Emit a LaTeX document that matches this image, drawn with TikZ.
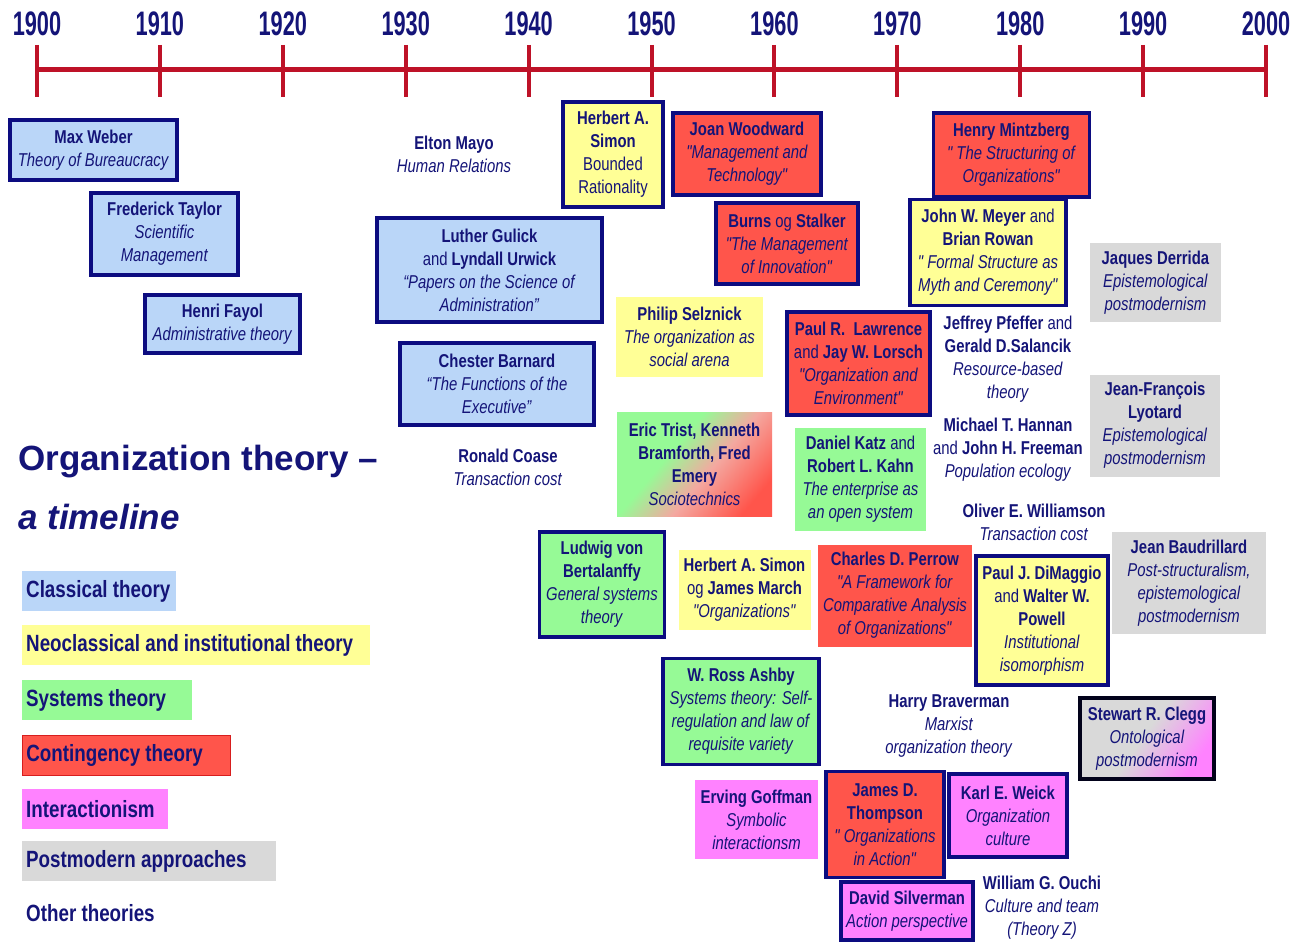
\documentclass[tikz,border=0pt]{standalone}
\usepackage{fontspec}
% box and legend texts keep straight quotation marks, so no TeX ligature mapping here
\newfontfamily\boxfam{Liberation Sans}[FakeStretch=0.8]
\newfontfamily\titlefam{Liberation Sans}
\newfontfamily\yearfam{Liberation Sans}[FakeStretch=0.64]

\definecolor{ink}{RGB}{20,20,120}
\definecolor{frame}{RGB}{12,12,128}
\definecolor{tlred}{RGB}{190,18,40}
\definecolor{cblue}{RGB}{186,214,248}
\definecolor{cyellow}{RGB}{255,255,150}
\definecolor{cgreen}{RGB}{150,250,150}
\definecolor{cred}{RGB}{255,85,75}
\definecolor{cpink}{RGB}{255,130,255}
\definecolor{cgrey}{RGB}{217,217,217}
\definecolor{mixpink}{RGB}{244,168,160}

% two-colour boxes
\pgfdeclarehorizontalshading{sociotech}{100bp}{color(0bp)=(cgreen); color(40bp)=(cgreen);
  color(56bp)=(mixpink); color(76bp)=(cred); color(100bp)=(cred)}
\pgfdeclarehorizontalshading{greypink}{100bp}{color(0bp)=(cgrey); color(48bp)=(cgrey);
  color(74bp)=(cpink); color(100bp)=(cpink)}

\begin{document}
\begin{tikzpicture}[x=1pt,y=-1pt,
  theory/.style={inner sep=0pt, align=center, text=ink,
    font=\boxfam\fontsize{18.6}{23}\selectfont},
  framed/.style={theory, draw=frame, line width=3.2pt},
  plain/.style={theory},
  sz/.style 2 args={minimum width=#1pt, minimum height=#2pt},
  classical/.style={fill=cblue},
  neo/.style={fill=cyellow},
  systems/.style={fill=cgreen},
  contingency/.style={fill=cred},
  interaction/.style={fill=cpink},
  postmodern/.style={fill=cgrey},
  legend/.style={anchor=west, inner xsep=4pt, inner ysep=0pt,
    minimum height=40pt, text=ink, font=\boxfam\fontsize{23.5}{28}\selectfont\bfseries},
  timeaxis/.style={line width=5pt, tlred},
  yeartick/.style={line width=4pt, tlred},
  yearlabel/.style={inner sep=0pt, text=ink,
    font=\yearfam\fontsize{34}{34}\selectfont\bfseries},
  headline/.style={anchor=base west, inner sep=0pt, text=ink,
    font=\titlefam\fontsize{35}{40}\selectfont\bfseries}]

\fill[white] (0,0) rectangle (1301,942);
\useasboundingbox (0,0) rectangle (1301,942);

% ---- time axis -------------------------------------------------------
\foreach \yr [count=\i from 0] in {1900,1910,...,2000} {
  \coordinate (t\yr) at (37+122.9*\i,70);
  \coordinate (tt\yr) at (37+122.9*\i,45);
  \coordinate (tb\yr) at (37+122.9*\i,97);
  \node[yearlabel] (y\yr) at (37+122.9*\i,24) {\yr};
}
\draw[timeaxis] (t1900) -- (t2000);
\foreach \yr in {1900,1910,...,2000} {
  \draw[yeartick] (tt\yr) -- (tb\yr);
}

% ---- title -----------------------------------------------------------
\node[headline] (title1) at (18,470) {Organization theory –};
\node[headline, font=\titlefam\fontsize{35}{40}\selectfont\bfseries\itshape]
  (title2) at (18,529) {a timeline};

% ---- legend ----------------------------------------------------------
\node[legend, classical] (lgclassical) at (22,591)
  {\makebox[146pt][l]{Classical theory}};
\node[legend, neo] (lgneo) at (22,645)
  {\makebox[340pt][l]{Neoclassical and institutional theory}};
\node[legend, systems] (lgsystems) at (22,700)
  {\makebox[162pt][l]{Systems theory}};
\node[legend, contingency, draw={rgb,255:red,215;green,30;blue,30}, line width=0.8pt]
  (lgcontingency) at (22,755) {\makebox[200pt][l]{Contingency theory}};
\node[legend, interaction] (lginteraction) at (22,809)
  {\makebox[138pt][l]{Interactionism}};
\node[legend, postmodern] (lgpostmodern) at (22,861)
  {\makebox[246pt][l]{Postmodern approaches}};
\node[legend] (lgother) at (22,913) {Other theories};

% ---- classical theory --------------------------------------------------
\node[framed, classical, sz={167}{60}] (weber) at (93.5,150)
  {\textbf{Max Weber}\\\textit{Theory of Bureaucracy}};
\node[framed, classical, sz={147}{82}] (taylor) at (164.5,234)
  {\textbf{Frederick Taylor}\\\textit{Scientific}\\\textit{Management}};
\node[framed, classical, sz={155}{58}] (fayol) at (222.5,324)
  {\textbf{Henri Fayol}\\\textit{Administrative theory}};
\node[framed, classical, sz={225}{104}] (gulick) at (489.5,270)
  {\textbf{Luther Gulick}\\and \textbf{Lyndall Urwick}\\
   \textit{“Papers on the Science of}\\\textit{Administration”}};
\node[framed, classical, sz={194}{82}] (barnard) at (497,384)
  {\textbf{Chester Barnard}\\\textit{“The Functions of the}\\\textit{Executive”}};

% ---- neoclassical and institutional theory ---------------------------
\node[plain] (mayo) at (454,154)
  {\textbf{Elton Mayo}\\\textit{Human Relations}};
\node[framed, neo, sz={100}{105}] (simonA) at (613,154.5)
  {\textbf{Herbert A.}\\\textbf{Simon}\\Bounded\\Rationality};
\node[theory, neo, sz={147}{80}] (selznick) at (689.5,337)
  {\textbf{Philip Selznick}\\\textit{The organization as}\\\textit{social arena}};
\node[framed, neo, sz={156}{106}] (meyer) at (988,252.5)
  {\textbf{John W. Meyer} and\\\textbf{Brian Rowan}\\
   \textit{" Formal Structure as}\\\textit{Myth and Ceremony"}};
\node[theory, neo, sz={132}{80}] (simonmarch) at (744.5,589.5)
  {\textbf{Herbert A. Simon}\\og \textbf{James March}\\\textit{"Organizations"}};
\node[framed, neo, sz={132}{129}] (dimaggio) at (1042,620.5)
  {\textbf{Paul J. DiMaggio}\\and \textbf{Walter W.}\\\textbf{Powell}\\
   \textit{Institutional}\\\textit{isomorphism}};

% ---- other theories (no box) -----------------------------------------
\node[plain] (coase) at (508,467)
  {\textbf{Ronald Coase}\\\textit{Transaction cost}};
\node[plain] (pfeffer) at (1008,359.5)
  {\textbf{Jeffrey Pfeffer} and\\\textbf{Gerald D.Salancik}\\
   \textit{Resource-based}\\\textit{theory}};
\node[plain] (hannan) at (1008,450)
  {\textbf{Michael T. Hannan}\\and \textbf{John H. Freeman}\\\textit{Population ecology}};
\node[plain] (williamson) at (1034,522.5)
  {\textbf{Oliver E. Williamson}\\\textit{Transaction cost}};
\node[plain] (braverman) at (949,726)
  {\textbf{Harry Braverman}\\\textit{Marxist}\\\textit{organization theory}};
\node[plain] (ouchi) at (1042,907.5)
  {\textbf{William G. Ouchi}\\\textit{Culture and team}\\\textit{(Theory Z)}};

% ---- contingency theory ----------------------------------------------
\node[framed, contingency, sz={148}{82}] (woodward) at (747,154)
  {\textbf{Joan Woodward}\\\textit{"Management and}\\\textit{Technology"}};
\node[framed, contingency, sz={142}{81}] (burns) at (787,243.5)
  {\textbf{Burns} og \textbf{Stalker}\\\textit{"The Management}\\\textit{of Innovation"}};
\node[framed, contingency, sz={143}{103}] (lawrence) at (858.5,363.5)
  {\textbf{Paul R.\ \ Lawrence}\\and \textbf{Jay W. Lorsch}\\
   \textit{"Organization and}\\\textit{Environment"}};
\node[framed, contingency, sz={156}{84}] (mintzberg) at (1011.5,155)
  {\textbf{Henry Mintzberg}\\\textit{" The Structuring of}\\\textit{Organizations"}};
\node[theory, contingency, sz={154}{102}] (perrow) at (895,595.5)
  {\textbf{Charles D. Perrow}\\\textit{"A Framework for}\\
   \textit{Comparative Analysis}\\\textit{of Organizations"}};
\node[framed, contingency, sz={118}{106}] (thompson) at (885,824.5)
  {\textbf{James D.}\\\textbf{Thompson}\\\textit{" Organizations}\\\textit{in Action"}};

% ---- systems theory --------------------------------------------------
\node[theory, sz={155}{104}, shade, shading=sociotech, shading angle=-40]
  (trist) at (694.5,464.5)
  {\textbf{Eric Trist, Kenneth}\\\textbf{Bramforth, Fred}\\\textbf{Emery}\\
   \textit{Sociotechnics}};
\node[theory, systems, sz={131}{103}] (katz) at (860.5,479.5)
  {\textbf{Daniel Katz} and\\\textbf{Robert L. Kahn}\\
   \textit{The enterprise as}\\\textit{an open system}};
\node[framed, systems, sz={125}{105}] (bertalanffy) at (602,584.5)
  {\textbf{Ludwig von}\\\textbf{Bertalanffy}\\\textit{General systems}\\\textit{theory}};
\node[framed, systems, sz={156}{106}] (ashby) at (741,711.5)
  {\textbf{W. Ross Ashby}\\\textit{Systems theory: Self-}\\
   \textit{regulation and law of}\\\textit{requisite variety}};

% ---- interactionism --------------------------------------------------
\node[theory, interaction, sz={123}{79}] (goffman) at (756.5,819.5)
  {\textbf{Erving Goffman}\\\textit{Symbolic}\\\textit{interactionsm}};
\node[framed, interaction, sz={118}{83}] (weick) at (1008,815.5)
  {\textbf{Karl E. Weick}\\\textit{Organization}\\\textit{culture}};
\node[framed, interaction, sz={132}{58}] (silverman) at (907,911)
  {\textbf{David Silverman}\\\textit{Action perspective}};

% ---- postmodern approaches -------------------------------------------
\node[theory, postmodern, sz={131}{79}] (derrida) at (1155.5,282.5)
  {\textbf{Jaques Derrida}\\\textit{Epistemological}\\\textit{postmodernism}};
\node[theory, postmodern, sz={130}{102}] (lyotard) at (1155,425.5)
  {\textbf{Jean-François}\\\textbf{Lyotard}\\\textit{Epistemological}\\\textit{postmodernism}};
\node[theory, postmodern, sz={154}{102}] (baudrillard) at (1189,583)
  {\textbf{Jean Baudrillard}\\\textit{Post-structuralism,}\\
   \textit{epistemological}\\\textit{postmodernism}};
\node[framed, draw=black!80!frame, sz={134}{81}, shade, shading=greypink,
  shading angle=-35] (clegg) at (1147,738.5)
  {\textbf{Stewart R. Clegg}\\\textit{Ontological}\\\textit{postmodernism}};

\end{tikzpicture}
\end{document}
